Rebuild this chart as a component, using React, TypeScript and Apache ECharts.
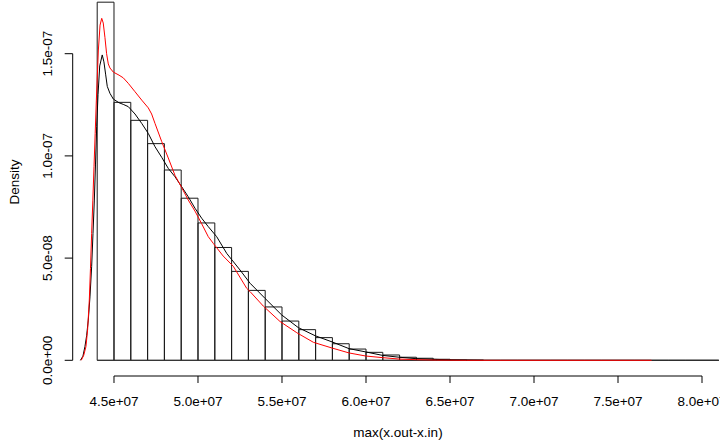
import React, { useEffect, useRef } from "react";
import * as echarts from "echarts";

// Histogram bins (breaks every 1e6 starting at 4.4e7) and densities
const binStarts: number[] = [
  4.4e7, 4.5e7, 4.6e7, 4.7e7, 4.8e7, 4.9e7, 5.0e7, 5.1e7, 5.2e7, 5.3e7,
  5.4e7, 5.5e7, 5.6e7, 5.7e7, 5.8e7, 5.9e7, 6.0e7, 6.1e7, 6.2e7, 6.3e7,
  6.4e7, 6.5e7, 6.6e7, 6.7e7, 6.8e7, 6.9e7, 7.0e7, 7.1e7, 7.2e7, 7.3e7,
  7.4e7, 7.5e7, 7.6e7, 7.7e7, 7.8e7, 7.9e7, 8.0e7,
];
const binWidth = 1e6;
const binDensity: number[] = [
  1.752e-7, 1.262e-7, 1.174e-7, 1.06e-7, 0.931e-7, 0.793e-7, 0.672e-7, 0.552e-7, 0.435e-7, 0.342e-7,
  0.261e-7, 0.192e-7, 0.15e-7, 0.111e-7, 0.081e-7, 0.055e-7, 0.039e-7, 0.026e-7, 0.015e-7, 0.01e-7,
  0.005e-7, 0.002e-7, 0.001e-7, 0, 0, 0, 0, 0, 0, 0,
  0, 0, 0, 0, 0, 0, 0,
];

// Black density curve
const blackX: number[] = [
  4.3e7, 4.315e7, 4.327e7, 4.337e7, 4.347e7, 4.357e7, 4.367e7, 4.375e7, 4.383e7, 4.39e7,
  4.397e7, 4.405e7, 4.415e7, 4.43e7, 4.44e7, 4.45e7, 4.46e7, 4.476e7, 4.496e7, 4.53e7,
  4.555e7, 4.585e7, 4.625e7, 4.665e7, 4.704e7, 4.744e7, 4.784e7, 4.823e7, 4.863e7, 4.903e7,
  4.942e7, 4.982e7, 5.022e7, 5.061e7, 5.111e7, 5.171e7, 5.25e7, 5.31e7, 5.399e7, 5.498e7,
  5.597e7, 5.698e7, 5.798e7, 5.899e7, 5.998e7, 6.099e7, 6.198e7, 6.298e7, 6.399e7, 6.5e7,
  6.7e7,
];
const blackY: number[] = [
  0, 0.02e-7, 0.067e-7, 0.12e-7, 0.197e-7, 0.31e-7, 0.458e-7, 0.62e-7, 0.784e-7, 0.96e-7,
  1.143e-7, 1.3e-7, 1.44e-7, 1.494e-7, 1.46e-7, 1.4e-7, 1.34e-7, 1.306e-7, 1.278e-7, 1.26e-7,
  1.252e-7, 1.241e-7, 1.205e-7, 1.159e-7, 1.11e-7, 1.045e-7, 0.993e-7, 0.939e-7, 0.898e-7, 0.849e-7,
  0.8e-7, 0.744e-7, 0.695e-7, 0.654e-7, 0.605e-7, 0.523e-7, 0.442e-7, 0.377e-7, 0.303e-7, 0.222e-7,
  0.16e-7, 0.12e-7, 0.09e-7, 0.057e-7, 0.041e-7, 0.024e-7, 0.015e-7, 0.008e-7, 0.005e-7, 0.002e-7,
  0,
];

// Red density curve
const redX: number[] = [
  4.305e7, 4.32e7, 4.333e7, 4.343e7, 4.353e7, 4.36e7, 4.367e7, 4.374e7, 4.381e7, 4.388e7,
  4.395e7, 4.407e7, 4.417e7, 4.427e7, 4.436e7, 4.446e7, 4.456e7, 4.466e7, 4.476e7, 4.496e7,
  4.53e7, 4.555e7, 4.585e7, 4.625e7, 4.665e7, 4.704e7, 4.724e7, 4.744e7, 4.784e7, 4.823e7,
  4.863e7, 4.903e7, 4.942e7, 4.982e7, 5.022e7, 5.061e7, 5.091e7, 5.15e7, 5.21e7, 5.29e7,
  5.31e7, 5.389e7, 5.488e7, 5.588e7, 5.687e7, 5.798e7, 5.899e7, 5.998e7, 6.099e7, 6.198e7,
  6.3e7, 6.42e7, 6.6e7, 7.7e7,
];
const redY: number[] = [
  0, 0.025e-7, 0.067e-7, 0.15e-7, 0.295e-7, 0.45e-7, 0.621e-7, 0.78e-7, 0.947e-7, 1.11e-7,
  1.273e-7, 1.518e-7, 1.64e-7, 1.673e-7, 1.65e-7, 1.58e-7, 1.5e-7, 1.45e-7, 1.43e-7, 1.41e-7,
  1.395e-7, 1.382e-7, 1.355e-7, 1.314e-7, 1.273e-7, 1.235e-7, 1.205e-7, 1.159e-7, 1.07e-7, 0.99e-7,
  0.905e-7, 0.845e-7, 0.784e-7, 0.73e-7, 0.668e-7, 0.605e-7, 0.572e-7, 0.51e-7, 0.46e-7, 0.352e-7,
  0.336e-7, 0.265e-7, 0.19e-7, 0.135e-7, 0.088e-7, 0.06e-7, 0.036e-7, 0.021e-7, 0.013e-7, 0.006e-7,
  0.003e-7, 0.001e-7, 0, 0,
];

// Axis ticks and labels
const xTicks: number[] = [4.5e7, 5.0e7, 5.5e7, 6.0e7, 6.5e7, 7.0e7, 7.5e7, 8.0e7];
const xTickLabels: string[] = ["4.5e+07", "5.0e+07", "5.5e+07", "6.0e+07", "6.5e+07", "7.0e+07", "7.5e+07", "8.0e+07"];
const yTicks: number[] = [0, 5e-8, 1e-7, 1.5e-7];
const yTickLabels: string[] = ["0.0e+00", "5.0e-08", "1.0e-07", "1.5e-07"];

const xTitle = "max(x.out-x.in)";
const yTitle = "Density";

const X_MIN = 4.2542e7;
const X_MAX = 8.1071e7;
const Y_MIN = -0.0768e-7;
const Y_MAX = 1.7627e-7;

const FONT_FAMILY = "'Liberation Sans', Arial, sans-serif";
const FONT_SIZE = 13.5;
const FONT = `${FONT_SIZE}px ${FONT_FAMILY}`;

export default function App() {
  const ref = useRef<HTMLDivElement>(null);

  useEffect(() => {
    document.body.style.margin = "0";
    if (!ref.current) return;
    const chart = echarts.init(ref.current, undefined, { renderer: "svg" });

    const histData = binStarts.map((s, i) => [s, s + binWidth, binDensity[i]]);
    const blackData = blackX.map((x, i) => [x, blackY[i]]);
    const redData = redX.map((x, i) => [x, redY[i]]);
    const xTickData = xTicks.map((v) => [v, Y_MIN]);
    const yTickData = yTicks.map((v) => [X_MIN, v]);

    chart.setOption({
      animation: false,
      backgroundColor: "#ffffff",
      grid: { left: 72.7, top: 0, width: 647.3, height: 376, containLabel: false },
      xAxis: {
        type: "value",
        min: X_MIN,
        max: X_MAX,
        axisLine: { show: false },
        splitLine: { show: false },
        axisTick: { show: false },
        axisLabel: { show: false },
      },
      yAxis: {
        type: "value",
        min: Y_MIN,
        max: Y_MAX,
        axisLine: { show: false },
        splitLine: { show: false },
        axisTick: { show: false },
        axisLabel: { show: false },
      },
      graphic: [
        {
          type: "text",
          x: 14.5,
          y: 182,
          rotation: Math.PI / 2,
          style: {
            text: yTitle,
            font: FONT,
            fill: "#000",
            align: "center",
            verticalAlign: "middle",
          },
        },
        {
          type: "text",
          x: 398,
          y: 432,
          style: {
            text: xTitle,
            font: FONT,
            fill: "#000",
            align: "center",
            verticalAlign: "middle",
          },
        },
      ],
      series: [
        {
          type: "custom",
          name: "hist",
          clip: false,
          data: histData,
          encode: { x: [0, 1], y: 2 },
          renderItem: (params: any, api: any) => {
            const x0 = api.value(0);
            const x1 = api.value(1);
            const h = api.value(2);
            const p0 = api.coord([x0, h]);
            const p1 = api.coord([x1, 0]);
            return {
              type: "rect",
              shape: { x: p0[0], y: p0[1], width: p1[0] - p0[0], height: p1[1] - p0[1] },
              style: { fill: "none", stroke: "#1a1a1a", lineWidth: 1 },
            };
          },
        },
        {
          type: "line",
          name: "baseline",
          data: [[binStarts[0], 0], [binStarts[binStarts.length - 1] + binWidth, 0]],
          symbol: "none",
          clip: false,
          lineStyle: { color: "#333", width: 1 },
          silent: true,
        },
        {
          type: "line",
          name: "black",
          data: blackData,
          symbol: "none",
          showSymbol: false,
          lineStyle: { color: "#000", width: 1 },
          silent: true,
        },
        {
          type: "line",
          name: "red",
          data: redData,
          symbol: "none",
          showSymbol: false,
          lineStyle: { color: "#ff0000", width: 1 },
          silent: true,
        },
        {
          type: "line",
          name: "xaxisline",
          data: [[xTicks[0], Y_MIN], [xTicks[xTicks.length - 1], Y_MIN]],
          symbol: "none",
          clip: false,
          lineStyle: { color: "#000", width: 1 },
          silent: true,
        },
        {
          type: "line",
          name: "yaxisline",
          data: [[X_MIN, yTicks[0]], [X_MIN, yTicks[yTicks.length - 1]]],
          symbol: "none",
          clip: false,
          lineStyle: { color: "#000", width: 1 },
          silent: true,
        },
        {
          type: "custom",
          name: "xticks",
          clip: false,
          silent: true,
          data: xTickData,
          encode: { x: 0, y: 1 },
          renderItem: (params: any, api: any) => {
            const p = api.coord([api.value(0), api.value(1)]);
            return {
              type: "group",
              children: [
                {
                  type: "line",
                  shape: { x1: p[0], y1: p[1], x2: p[0], y2: p[1] + 7 },
                  style: { stroke: "#000", lineWidth: 1 },
                },
                {
                  type: "text",
                  x: p[0],
                  y: p[1] + 25.5,
                  style: {
                    text: xTickLabels[params.dataIndex],
                    font: FONT,
                    fill: "#000",
                    align: "center",
                    verticalAlign: "middle",
                  },
                },
              ],
            };
          },
        },
        {
          type: "custom",
          name: "yticks",
          clip: false,
          silent: true,
          data: yTickData,
          encode: { x: 0, y: 1 },
          renderItem: (params: any, api: any) => {
            const p = api.coord([api.value(0), api.value(1)]);
            return {
              type: "group",
              children: [
                {
                  type: "line",
                  shape: { x1: p[0] - 8, y1: p[1], x2: p[0], y2: p[1] },
                  style: { stroke: "#000", lineWidth: 1 },
                },
                {
                  type: "text",
                  x: p[0] - 25,
                  y: p[1],
                  rotation: Math.PI / 2,
                  style: {
                    text: yTickLabels[params.dataIndex],
                    font: FONT,
                    fill: "#000",
                    align: "center",
                    verticalAlign: "middle",
                  },
                },
              ],
            };
          },
        },
      ],
    });

    return () => {
      chart.dispose();
    };
  }, []);

  return <div ref={ref} style={{ width: 720, height: 443 }} />;
}
